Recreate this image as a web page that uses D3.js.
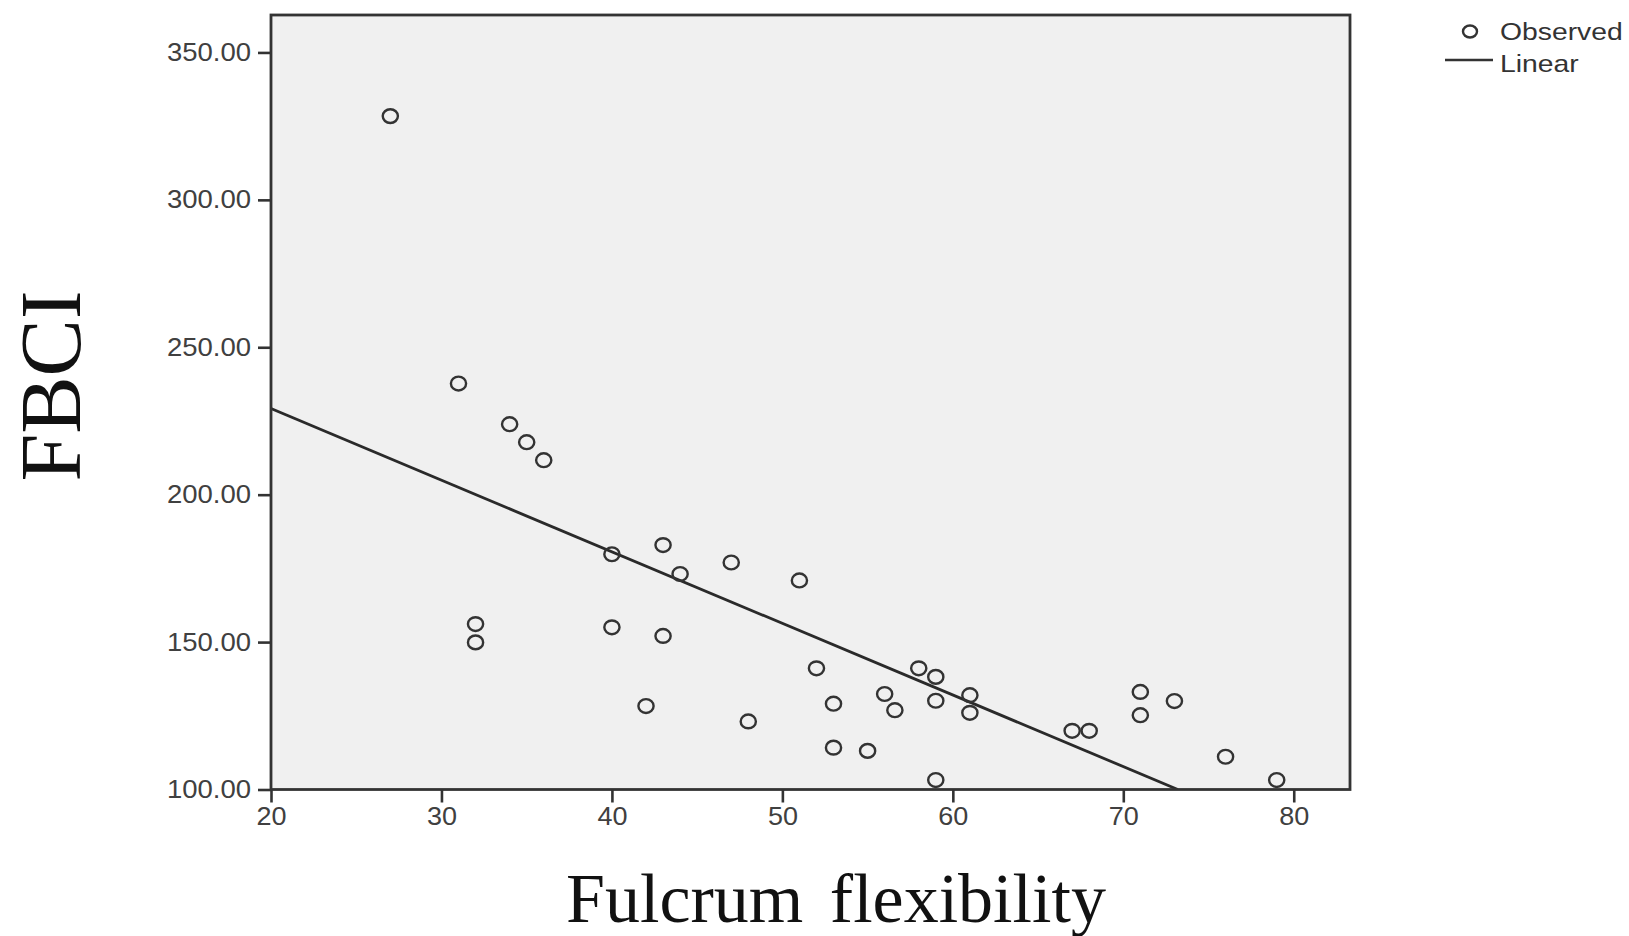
<!DOCTYPE html>
<html>
<head>
<meta charset="utf-8">
<script src="https://cdn.jsdelivr.net/npm/d3@7"></script>
<style>
  html, body { margin: 0; padding: 0; background: #fff; }
  svg { display: block; }
</style>
</head>
<body>
<svg id="chart" width="1629" height="936"></svg>
<script>
// ---- data ----
const flexibility = [27, 31, 34, 35, 36, 32, 32, 40, 40, 43, 44, 43, 42, 47, 48, 51, 52, 53, 53, 55, 56, 56.6, 58, 59, 59, 59, 61, 61, 67, 68, 71, 71, 73, 76, 79];
const fbci = [328.4, 237.7, 223.9, 217.8, 211.7, 156.1, 149.9, 179.8, 155.0, 182.9, 173.1, 152.1, 128.3, 177.0, 123.1, 170.9, 141.1, 129.1, 114.2, 113.1, 132.4, 126.9, 141.1, 138.2, 130.1, 103.2, 132.0, 126.0, 119.9, 119.9, 133.1, 125.2, 130.0, 111.1, 103.2];
const fitX = [20, 73.2];
const fitY = [229.2, 100];
const xTicks = [20, 30, 40, 50, 60, 70, 80];
const yTicks = [100, 150, 200, 250, 300, 350];
const xDomain = [20, 83.3];
const yDomain = [100, 362.7];
const legendLabels = ["Observed", "Linear"];
const xTitle = "Fulcrum flexibility";
const yTitle = "FBCI";

// ---- layout ----
const plot = { left: 271, right: 1350, top: 15, bottom: 789.5 };
const svg = d3.select("#chart");
const x = d3.scaleLinear().domain(xDomain).range([plot.left, plot.right]);
const y = d3.scaleLinear().domain(yDomain).range([plot.bottom, plot.top]);
const ink = "#333";

// plot background
svg.append("rect")
  .attr("x", plot.left).attr("y", plot.top)
  .attr("width", plot.right - plot.left).attr("height", plot.bottom - plot.top)
  .attr("fill", "#f0f0f0");

// clip
svg.append("clipPath").attr("id", "clip").append("rect")
  .attr("x", plot.left).attr("y", plot.top)
  .attr("width", plot.right - plot.left).attr("height", plot.bottom - plot.top);

// regression line
const line = d3.line().x(d => x(d[0])).y(d => y(d[1]));
svg.append("path")
  .datum(d3.zip(fitX, fitY))
  .attr("d", line)
  .attr("clip-path", "url(#clip)")
  .attr("fill", "none").attr("stroke", "#2a2a2a").attr("stroke-width", 2.8);

// points
svg.append("g").selectAll("ellipse")
  .data(d3.zip(flexibility, fbci))
  .join("ellipse")
  .attr("cx", d => x(d[0])).attr("cy", d => y(d[1]))
  .attr("rx", 7.6).attr("ry", 6.9)
  .attr("fill", "none").attr("stroke", ink).attr("stroke-width", 2.4);

// frame
svg.append("rect")
  .attr("x", plot.left).attr("y", plot.top)
  .attr("width", plot.right - plot.left).attr("height", plot.bottom - plot.top)
  .attr("fill", "none").attr("stroke", ink).attr("stroke-width", 2.8);

// axes
const fmtY = d3.format(".2f");
const yAxis = d3.axisLeft(y).tickValues(yTicks).tickFormat(fmtY).tickSize(13).tickPadding(6);
const xAxis = d3.axisBottom(x).tickValues(xTicks).tickFormat(d3.format("d")).tickSize(13).tickPadding(5);

const gy = svg.append("g").attr("transform", `translate(${plot.left},0)`).call(yAxis);
const gx = svg.append("g").attr("transform", `translate(0,${plot.bottom})`).call(xAxis);
[gx, gy].forEach(g => {
  g.select(".domain").remove();
  g.selectAll(".tick line").attr("stroke", ink).attr("stroke-width", 2.6);
  g.selectAll(".tick text")
    .attr("fill", "#404040")
    .style("font-family", "'Liberation Sans', Arial, sans-serif")
    .style("font-size", "25px");
});
gy.selectAll(".tick text").attr("x", 0).attr("transform", "translate(-20,0) scale(1.1,1)");
gx.selectAll(".tick text").attr("dy", "0.72em").attr("transform", "scale(1.08,1)")
  .attr("x", 0);

// axis titles
svg.append("text")
  .attr("x", 836).attr("y", 922)
  .attr("text-anchor", "middle")
  .attr("fill", "#111")
  .style("font-family", "'Liberation Serif', 'Times New Roman', serif")
  .style("font-size", "70px")
  .style("word-spacing", "9px")
  .text(xTitle);

svg.append("text")
  .attr("transform", "translate(80,386) rotate(-90)")
  .attr("text-anchor", "middle")
  .attr("fill", "#111")
  .style("font-family", "'Liberation Serif', 'Times New Roman', serif")
  .style("font-size", "86px")
  .text(yTitle);

// legend
const lg = svg.append("g");
lg.append("ellipse").attr("cx", 1470).attr("cy", 31.5).attr("rx", 7).attr("ry", 6)
  .attr("fill", "none").attr("stroke", ink).attr("stroke-width", 2.4);
lg.append("line").attr("x1", 1445).attr("x2", 1493).attr("y1", 60).attr("y2", 60)
  .attr("stroke", ink).attr("stroke-width", 2.6);
lg.selectAll("text").data(legendLabels).join("text")
  .attr("transform", (d, i) => `translate(1500,${40 + i * 31.5}) scale(1.18,1)`)
  .attr("fill", "#333")
  .style("font-family", "'Liberation Sans', Arial, sans-serif")
  .style("font-size", "24px")
  .style("font-weight", "500")
  .text(d => d);
</script>
</body>
</html>
